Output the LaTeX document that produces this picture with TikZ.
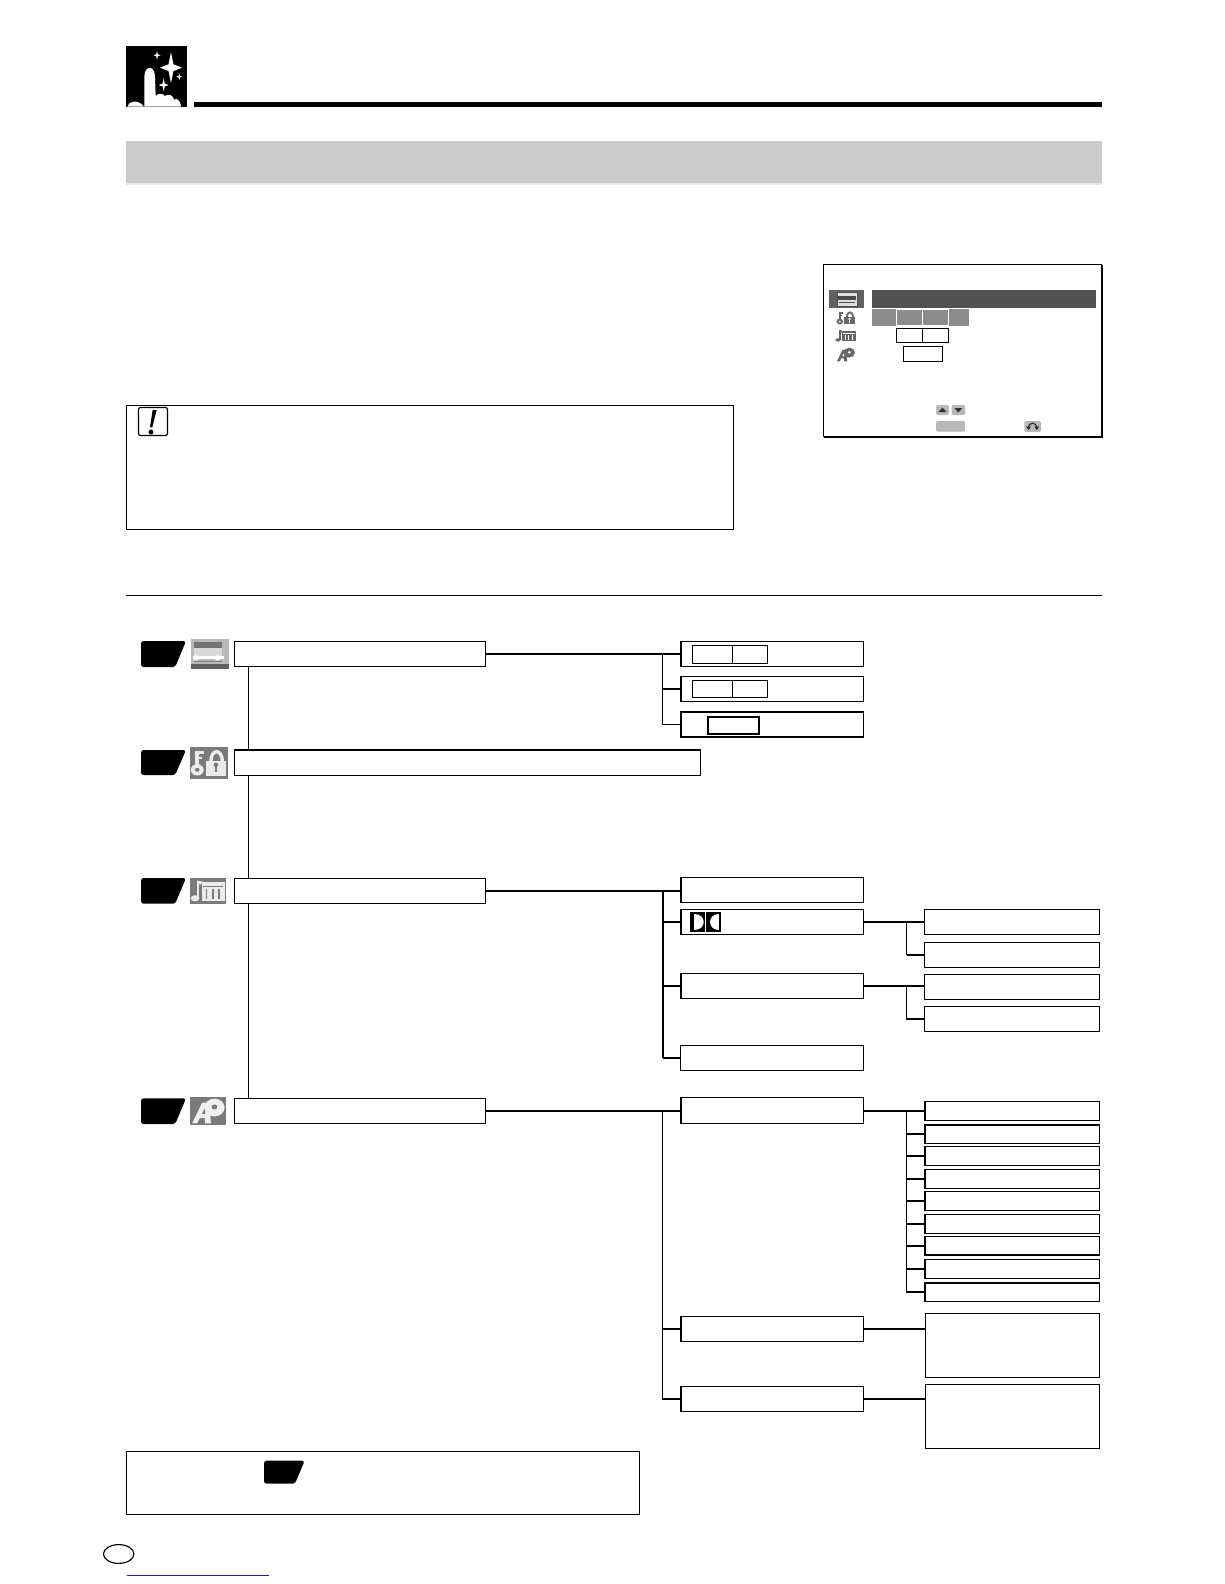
\documentclass[tikz,border=0pt]{standalone}
\usetikzlibrary{shapes.geometric}
\definecolor{navyline}{RGB}{25,35,150}
\tikzset{
  boxn/.style={draw=black,line width=1.15pt,fill=white,inner sep=0pt,outer sep=0pt,rectangle},
  thinc/.style={draw=black,line width=1.15pt},
  thickc/.style={draw=black,line width=2pt},
  heavyedge/.style={draw=black,line width=2pt},
  badgeshape/.style={fill=black,rounded corners=2.6pt},
}
\newcommand\bx[6][]{%
  \pgfmathsetmacro\xa{floor(#3)+0.5}\pgfmathsetmacro\xb{floor(#5)+0.5}%
  \pgfmathsetmacro\ya{floor(#4)+0.5}\pgfmathsetmacro\yb{floor(#6)+0.5}%
  \pgfmathsetmacro\bW{\xb-\xa}\pgfmathsetmacro\bH{\yb-\ya}%
  \pgfmathsetmacro\bX{(\xa+\xb)/2}\pgfmathsetmacro\bY{(\ya+\yb)/2}%
  \node[boxn,minimum width=\bW pt,minimum height=\bH pt,#1] (#2) at (\bX,\bY) {};}
\newcommand\lft[1]{\draw[heavyedge] ([xshift=0.5pt]#1.north west) -- ([xshift=0.5pt]#1.south west);}
\newcommand\tp[1]{\draw[heavyedge] ([yshift=-0.5pt]#1.north west) -- ([yshift=-0.5pt]#1.north east);}
\newcommand\bt[1]{\draw[heavyedge] ([yshift=0.5pt]#1.south west) -- ([yshift=0.5pt]#1.south east);}
% badge: x y width height
\newcommand\badge[4]{\begin{scope}[shift={(#1,#2)},x=#3pt,y=-#4pt]
  \path[badgeshape] (0,0) -- (1,0) -- (0.76,1) -- (0,1) -- cycle;\end{scope}}
% four point star
\newcommand\fstar[4]{\fill[white] (#1,#2-#4) -- (#1+0.22*#3,#2-0.22*#4) -- (#1+#3,#2) -- (#1+0.22*#3,#2+0.22*#4)
  -- (#1,#2+#4) -- (#1-0.22*#3,#2+0.22*#4) -- (#1-#3,#2) -- (#1-0.22*#3,#2-0.22*#4) -- cycle;}
% lock & key icon: x y w h fg bg
\newcommand\iconlock[6]{\begin{scope}[shift={(#1,#2)},x=#3pt,y=-#4pt]
  \fill[#6] (0,0) rectangle (1,1);
  \fill[#5] (0.13,0.12) rectangle (0.24,0.62);
  \fill[#5] (0.18,0.14) rectangle (0.36,0.22);
  \fill[#5] (0.18,0.3) rectangle (0.32,0.38);
  \fill[#5] (0.19,0.72) ellipse (0.17 and 0.18);
  \fill[#6] (0.19,0.72) ellipse (0.06 and 0.06);
  \draw[#5,line width=0.09*#3pt] (0.55,0.45) .. controls (0.55,0.05) and (0.85,0.05) .. (0.85,0.45);
  \fill[#5] (0.42,0.43) rectangle (0.95,0.9);
  \fill[#6] (0.68,0.56) ellipse (0.06 and 0.07);
  \fill[#6] (0.66,0.6) rectangle (0.7,0.8);
\end{scope}}
% note & mixer icon
\newcommand\iconmix[6]{\begin{scope}[shift={(#1,#2)},x=#3pt,y=-#4pt]
  \fill[#6] (0,0) rectangle (1,1);
  \fill[#5] (0.2,0.1) rectangle (0.26,0.75);
  \fill[#5] (0.2,0.1) -- (0.36,0.14) -- (0.3,0.25) -- (0.2,0.22) -- cycle;
  \fill[#5] (0.14,0.78) ellipse (0.12 and 0.12);
  \fill[#5] (0.33,0.16) rectangle (0.96,0.88);
  \fill[#6] (0.37,0.3) rectangle (0.92,0.36);
  \foreach \xx in {0.46,0.63,0.81}{\fill[#6] (\xx-0.025,0.42) rectangle (\xx+0.025,0.8);}
\end{scope}}
% A & disc icon
\newcommand\icona[6]{\begin{scope}[shift={(#1,#2)},x=#3pt,y=-#4pt]
  \fill[#6] (0,0) rectangle (1,1);
  \fill[#5] (0.06,0.95) -- (0.34,0.2) -- (0.54,0.2) -- (0.58,0.95) -- (0.42,0.95) -- (0.41,0.76) -- (0.27,0.76) -- (0.2,0.95) -- cycle;
  \fill[#6] (0.33,0.62) -- (0.42,0.38) -- (0.42,0.62) -- cycle;
  \fill[#5] (0.68,0.38) ellipse (0.28 and 0.32);
  \fill[#6] (0.68,0.36) ellipse (0.08 and 0.09);
\end{scope}}
\begin{document}
\begin{tikzpicture}[x=1pt,y=-1pt]
\useasboundingbox (0,0) rectangle (1224,1584);
\fill[white] (0,0) rectangle (1224,1584);
%% header icon
\fill[black] (125.7,45.7) rectangle (186.7,106.7);
\fstar{171}{67.7}{11}{15.5}
\fstar{157}{55.3}{3.5}{4.5}
\fstar{163.7}{85}{5}{6.5}
\fstar{179.3}{76.7}{3}{3.5}
\begin{scope}[shift={(110,30)},x=0.3333pt,y=-0.3333pt]
  \fill[white] (52,230) .. controls (55,212) and (85,208) .. (100,228) -- (103,230)
    -- (103,140) .. controls (104,105) and (134,105) .. (135,140) -- (137,198)
    .. controls (145,188) and (158,190) .. (165,198) .. controls (175,190) and (188,195) .. (192,208)
    .. controls (204,204) and (212,215) .. (213,230) -- cycle;
\end{scope}
\fill[black] (194,102) rectangle (1102,107);
\fill[black!20] (126,141) rectangle (1102,183);
\fill[black!9] (126,183) rectangle (1102,184.5);
%% OSD screen
\draw[black,line width=1.1pt] (823.5,437) -- (823.5,264.5) -- (1102,264.5);
\draw[black,line width=2pt] (823.5,437) -- (1102,437) -- (1102,264.5);
\fill[black!62] (829,290) rectangle (864,307.7);
\fill[black!12] (837,292) rectangle (857,306);
\draw[black!70,line width=1pt] (837,292.5) rectangle (857,306);
\fill[black!70] (838,296) rectangle (856,300);
\draw[black!70,line width=0.9pt] (839,302.5) -- (855,302.5);
\fill[black!68] (872,290) rectangle (1096,308);
\fill[black!45] (872,309.3) rectangle (969,325.7);
\draw[white,line width=1pt] (896.5,309.8) rectangle (922.5,325.3);
\draw[white,line width=1pt] (922.5,309.8) rectangle (948.5,325.3);
\bx{osdA}{896.3}{328.6}{922.7}{342.4}
\bx[line width=1.6pt]{osdB}{922.7}{328.6}{948.7}{342.4}
\bx{osdC}{903.3}{346.5}{942.7}{361.5}
\iconlock{836}{310}{20}{16}{black!60}{white}
\iconmix{835}{329}{22}{14}{black!60}{white}
\icona{835.7}{346.7}{20}{15.5}{black!60}{white}
\fill[black!28,rounded corners=1.5pt] (936,405) rectangle (949,415);
\fill[black!28,rounded corners=1.5pt] (951.7,405) rectangle (965,415);
\fill[black!80] (942.5,407.5) -- (946.5,412) -- (938.5,412) -- cycle;
\fill[black!80] (958.3,412.5) -- (954.3,408) -- (962.3,408) -- cycle;
\fill[black!28,rounded corners=2pt] (936,421) rectangle (965,431.7);
\fill[black!28,rounded corners=2pt] (1024.3,421) rectangle (1041,432);
\draw[black!85,line width=1.1pt] (1028.5,428) .. controls (1029,421.5) and (1036,421.5) .. (1036.8,428);
\fill[black!85] (1026,426.5) -- (1031,426.5) -- (1028.5,430) -- cycle;
\fill[black!85] (1034.3,426.5) -- (1039.3,426.5) -- (1036.8,430) -- cycle;
%% caution box
\bx{caution}{126}{405}{733.3}{529.2}
\draw[black,line width=1.15pt,rounded corners=2pt] (138.5,407.5) rectangle (167.5,435.5);
\begin{scope}[shift={(120,400)},x=0.3333pt,y=-0.3333pt]
  \fill[black] (98,30) -- (110,30) -- (97,82) -- (90,82) -- cycle;
  \fill[black] (93,96) ellipse (7.5 and 7.5);
\end{scope}
%% rule
\draw[black,line width=1pt] (126,595.5) -- (1102,595.5);
%% left column
\badge{141}{641}{45}{26}
\badge{141}{750}{45}{25}
\badge{141}{878}{45}{25.7}
\badge{141}{1098.3}{45}{25.7}
% icon 1
\begin{scope}[shift={(191,639)},x=38pt,y=-30pt]
  \fill[black!28] (0,0) rectangle (1,1);
  \fill[black!62] (0,0.82) rectangle (1,1);
  \fill[black!55] (0.08,0.1) rectangle (0.82,0.3);
  \fill[black!15] (0.08,0.3) rectangle (0.82,0.55);
  \fill[white] (0.05,0.58) rectangle (0.88,0.68);
  \fill[white] (0.12,0.63) ellipse (0.07 and 0.09);
  \fill[white] (0.7,0.63) ellipse (0.07 and 0.09);
  \fill[black!50] (0.08,0.72) rectangle (0.82,0.78);
\end{scope}
\iconlock{190}{747}{38}{31.7}{black!8}{black!52}
\iconmix{190}{878}{36}{26}{black!8}{black!52}
\icona{190}{1097}{36}{27.7}{black!6}{black!52}
%% main boxes
\bx{bA}{234.3}{641}{485}{666.3}
\bx{bB}{234.3}{749.6}{700}{775.3}
\bx{bC}{234.3}{878.3}{485}{903.3}
\bx{bD}{234.3}{1098.3}{485}{1123.7}
\tp{bB}
\coordinate (tr) at (248.5,700);
\draw[thinc] (tr |- bA.south) -- (tr |- bB.north);
\draw[thinc] (tr |- bB.south) -- (tr |- bC.north);
\draw[thinc] (tr |- bC.south) -- (tr |- bD.north);
%% group A
\bx{a1}{680.3}{641.7}{863.3}{666.3}
\bx{a2}{680.3}{676.7}{863.3}{701.3}
\bx{a3}{680.3}{711.7}{863.3}{737}
\lft{a1}\lft{a2}\lft{a3}\tp{a3}\bt{a3}
\bx[line width=1.6pt]{a1i}{692.3}{645.6}{767.7}{663}
\bx[line width=1.8pt]{a2i}{692.3}{680.9}{767.7}{697.8}
\bx[line width=2pt]{a3i}{707.7}{716}{758.7}{733}
\draw[thinc] (732.5,645.6) -- (732.5,663);
\draw[thinc] (732.5,680.9) -- (732.5,697.8);
\coordinate (sa) at (662.5,654);
\draw[thickc] (bA.east) -- (bA.east -| a1.west);
\draw[thinc] (sa) |- (a3.west);
\draw[thickc] (sa |- a2.west) -- (a2.west);
%% group C
\bx{c1}{680.3}{877.3}{863.3}{902.3}
\bx{c2}{680.3}{909.3}{863.3}{934.3}
\bx{c3}{680.3}{973.3}{863.3}{998.3}
\bx{c4}{680.3}{1045.3}{863.3}{1070.3}
\lft{c1}\lft{c2}\lft{c3}
\bx{d1}{924.3}{909.3}{1099.7}{934.3}
\bx{d2}{924.3}{942.3}{1099.7}{967.3}
\bx{d3}{924.3}{974.3}{1099.7}{999.3}
\bx{d4}{924.3}{1006.3}{1099.7}{1031.3}
\coordinate (sc) at (663,890.7);
\draw[thickc] (bC.east) -- (bC.east -| c1.west);
\draw[thickc] (sc) -- (sc |- c4.west);
\draw[thinc] (sc |- c4.west) -- (c4.west);
\draw[thinc] (sc |- c2.west) -- (c2.west);
\draw[thickc] (sc |- c3.west) -- (c3.west);
\coordinate (se) at (906.5,922);
\draw[thinc] (c2.east) -- (c2.east -| d1.west);
\draw[thinc] (se) -- (se |- d2.west);
\draw[thickc] (se |- d2.west) -- (d2.west);
\draw[thickc] (c3.east) -- (c3.east -| d3.west);
\draw[thinc] (se |- c3.east) |- (d4.west);
% Dolby logo
\fill[black] (690,912.3) rectangle (704.5,932);
\fill[black] (706,912.3) rectangle (721,932);
\fill[white] (694.3,914.3) .. controls (707,914.3) and (707,930) .. (694.3,930) -- cycle;
\fill[white] (719,914.3) .. controls (706.5,914.3) and (706.5,930) .. (719,930) -- cycle;
%% group D
\bx{e1}{680.3}{1097.3}{863.3}{1123}
\bx{e2}{680.3}{1316}{863.3}{1341}
\bx{e3}{680.3}{1386}{863.3}{1411}
\lft{e1}\lft{e2}\lft{e3}
\coordinate (sd) at (662.5,1110.5);
\draw[thickc] (bD.east) -- (bD.east -| e1.west);
\draw[thinc] (sd) |- (e3.west);
\draw[thickc] (sd |- e2.west) -- (e2.west);
\draw[thickc] (sd |- e3.west) -- (e3.west);
\bx{f1}{924.7}{1101.3}{1099.7}{1120.3}
\bx{f2}{924.7}{1124}{1099.7}{1143.3}
\bx{f3}{924.7}{1146.3}{1099.7}{1165.3}
\bx{f4}{924.7}{1169.3}{1099.7}{1188.3}
\bx{f5}{924.7}{1191.3}{1099.7}{1210.3}
\bx{f6}{924.7}{1214.3}{1099.7}{1233.3}
\bx{f7}{924.7}{1236.3}{1099.7}{1255.7}
\bx{f8}{924.7}{1259.3}{1099.7}{1278.3}
\bx{f9}{924.7}{1282}{1099.7}{1301.3}
\lft{f1}\lft{f2}\lft{f3}\lft{f4}\lft{f5}\lft{f6}\lft{f7}\lft{f8}\lft{f9}
\tp{f2}\bt{f7}\tp{f9}
\coordinate (sf) at (906.5,1110.7);
\draw[thickc] (e1.east) -- (e1.east -| f1.west);
\draw[thinc] (sf) |- (f9.west);
\draw[thinc] (sf |- f2.west) -- (f2.west);
\draw[thickc] (sf |- f3.west) -- (f3.west);
\draw[thickc] (sf |- f4.west) -- (f4.west);
\draw[thinc] (sf |- f5.west) -- (f5.west);
\draw[thickc] (sf |- f6.west) -- (f6.west);
\draw[thinc] (sf |- f7.west) -- (f7.west);
\draw[thickc] (sf |- f8.west) -- (f8.west);
\bx{g1}{925}{1313.5}{1099.7}{1377.5}
\bx{g2}{925}{1384.5}{1099.7}{1448}
\draw[thickc] (e2.east) -- (e2.east -| g1.west);
\draw[thickc] (e3.east) -- (e3.east -| g2.west);
%% bottom note
\bx{note}{126.3}{1451.5}{639}{1514}
\badge{264}{1460.7}{40.7}{23}
\node[draw=black,line width=1.15pt,ellipse,inner sep=0pt,minimum width=30.5pt,minimum height=18.8pt] (ring) at (118.7,1554) {};
\draw[navyline,line width=1pt] (126.7,1575.5) -- (269,1575.5);
\end{tikzpicture}
\end{document}
